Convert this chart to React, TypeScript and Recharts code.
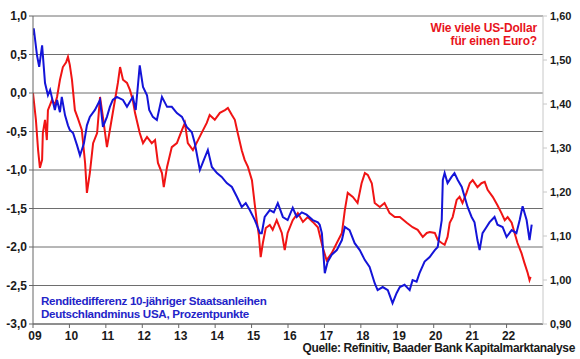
import React from 'react';
import { LineChart, Line, XAxis, YAxis, CartesianGrid } from 'recharts';

const yearTicks = [2009, 2010, 2011, 2012, 2013, 2014, 2015, 2016, 2017, 2018, 2019, 2020, 2021, 2022];
const spreadTicks = [1.0, 0.5, 0.0, -0.5, -1.0, -1.5, -2.0, -2.5, -3.0];
const fxTicks = [0.9, 1.0, 1.1, 1.2, 1.3, 1.4, 1.5, 1.6];

const spreadDates = [
  2009.0, 2009.02, 2009.11, 2009.17, 2009.25, 2009.33, 2009.41, 2009.47, 2009.52, 2009.6, 2009.66, 2009.74, 2009.79, 2009.88, 2009.96,
  2010.01, 2010.1, 2010.21, 2010.29, 2010.34, 2010.4, 2010.48, 2010.56, 2010.7, 2010.84, 2010.92,
  2011.03, 2011.11, 2011.19, 2011.3, 2011.47, 2011.58, 2011.74, 2011.82, 2011.93,
  2012.02, 2012.13, 2012.19, 2012.29, 2012.4, 2012.54, 2012.68, 2012.81, 2012.95,
  2013.09, 2013.22, 2013.36, 2013.44, 2013.58, 2013.69, 2013.8, 2013.91,
  2014.05, 2014.18, 2014.32, 2014.46, 2014.6, 2014.73, 2014.84, 2014.95,
  2015.09, 2015.23, 2015.28, 2015.36, 2015.5, 2015.61, 2015.72, 2015.86, 2015.99,
  2016.13, 2016.24, 2016.38, 2016.51, 2016.68, 2016.82, 2016.87, 2016.93,
  2017.01, 2017.09, 2017.2, 2017.34, 2017.48, 2017.56, 2017.69, 2017.83, 2017.97,
  2018.11, 2018.24, 2018.38, 2018.46, 2018.6, 2018.74, 2018.87, 2018.98,
  2019.07, 2019.2, 2019.34, 2019.42, 2019.53, 2019.61, 2019.75, 2019.89,
  2020.03, 2020.11, 2020.16, 2020.22, 2020.25, 2020.3, 2020.38, 2020.49, 2020.57, 2020.66, 2020.77, 2020.85, 2020.93,
  2021.04, 2021.12, 2021.2, 2021.26, 2021.34, 2021.45, 2021.53, 2021.67, 2021.75, 2021.89,
  2022.0, 2022.14, 2022.27, 2022.36, 2022.44, 2022.55, 2022.63, 2022.69,
];
const spreadValues = [
  0.75, 0.84, 0.49, 0.34, 0.62, 0.13, -0.03, 0.04, -0.06, -0.22, -0.09, -0.25, -0.05, -0.29, -0.42,
  -0.48, -0.52, -0.68, -0.81, -0.74, -0.65, -0.42, -0.31, -0.22, -0.09, -0.44,
  -0.31, -0.18, -0.09, -0.05, -0.09, -0.18, -0.05, -0.22, 0.36,
  0.08, -0.03, -0.22, -0.31, -0.35, -0.05, -0.18, -0.18, -0.26,
  -0.31, -0.44, -0.51, -0.65, -1.0, -0.87, -0.74, -0.96,
  -1.04, -1.09, -1.17, -1.22, -1.35, -1.48, -1.43, -1.52,
  -1.65, -1.82, -1.82, -1.61, -1.52, -1.55, -1.43, -1.61, -1.65,
  -1.49, -1.61, -1.55, -1.58, -1.65, -1.68, -1.71, -1.82,
  -2.34, -2.19, -2.1, -2.04, -1.91, -1.74, -1.78, -1.95, -2.04,
  -2.17, -2.26, -2.47, -2.56, -2.52, -2.56, -2.73, -2.6,
  -2.52, -2.49, -2.56, -2.43, -2.45, -2.34, -2.19, -2.13,
  -2.04, -2.0, -1.84, -1.65, -1.13, -1.04, -1.17, -1.09, -1.04, -1.13, -1.22, -1.35, -1.48,
  -1.61, -1.68, -1.91, -2.04, -1.82, -1.74, -1.68, -1.61, -1.71, -1.74,
  -1.87, -1.78, -1.82, -1.65, -1.47, -1.65, -1.91, -1.71,
];

const fxDates = [
  2009.0, 2009.08, 2009.14, 2009.19, 2009.25, 2009.27, 2009.33, 2009.38, 2009.41, 2009.52, 2009.6, 2009.66, 2009.74, 2009.82, 2009.91, 2009.96,
  2010.01, 2010.07, 2010.15, 2010.23, 2010.34, 2010.43, 2010.48, 2010.56, 2010.65, 2010.76, 2010.84, 2010.92,
  2011.03, 2011.11, 2011.25, 2011.33, 2011.39, 2011.47, 2011.58, 2011.66, 2011.74, 2011.8, 2011.93,
  2012.02, 2012.13, 2012.26, 2012.35, 2012.43, 2012.54, 2012.59, 2012.68, 2012.81, 2012.95,
  2013.09, 2013.17, 2013.25, 2013.39, 2013.53, 2013.64, 2013.77, 2013.85, 2013.99,
  2014.13, 2014.27, 2014.35, 2014.46, 2014.54, 2014.62, 2014.73, 2014.81, 2014.9,
  2015.01, 2015.09, 2015.14, 2015.2, 2015.25, 2015.31, 2015.39, 2015.5, 2015.58, 2015.69, 2015.83, 2015.91, 2015.99,
  2016.13, 2016.27, 2016.41, 2016.54, 2016.68, 2016.82, 2016.95,
  2017.06, 2017.2, 2017.34, 2017.48, 2017.56, 2017.64, 2017.78, 2017.91,
  2018.02, 2018.11, 2018.19, 2018.3, 2018.38, 2018.52, 2018.65, 2018.79, 2018.93,
  2019.07, 2019.26, 2019.42, 2019.56, 2019.7, 2019.81, 2019.89,
  2020.03, 2020.11, 2020.22, 2020.3, 2020.38, 2020.44, 2020.52, 2020.63, 2020.71, 2020.79, 2020.9, 2020.99,
  2021.07, 2021.2, 2021.31, 2021.4, 2021.48, 2021.62, 2021.75, 2021.86, 2021.95,
  2022.03, 2022.14, 2022.22, 2022.3, 2022.41, 2022.49, 2022.58, 2022.63, 2022.66,
];
const fxValues = [
  1.425, 1.364, 1.295, 1.255, 1.273, 1.334, 1.364, 1.318, 1.386, 1.409, 1.398, 1.416, 1.455, 1.484, 1.495, 1.507,
  1.489, 1.455, 1.386, 1.368, 1.341, 1.266, 1.198, 1.243, 1.311, 1.334, 1.416, 1.37,
  1.302, 1.341, 1.409, 1.448, 1.484, 1.455, 1.448, 1.432, 1.409, 1.38, 1.334,
  1.311, 1.325, 1.311, 1.318, 1.266, 1.243, 1.211, 1.257, 1.302, 1.311,
  1.341, 1.357, 1.311, 1.295, 1.318, 1.336, 1.357, 1.375, 1.364,
  1.38, 1.386, 1.391, 1.375, 1.364, 1.334, 1.295, 1.273, 1.257,
  1.227, 1.17, 1.136, 1.102, 1.052, 1.084, 1.118, 1.125, 1.114, 1.136, 1.107, 1.068, 1.107,
  1.136, 1.152, 1.132, 1.143, 1.132, 1.12, 1.075,
  1.045, 1.061, 1.084, 1.107, 1.159, 1.198, 1.189, 1.175,
  1.22, 1.243, 1.239, 1.22, 1.175, 1.166, 1.175, 1.152, 1.143,
  1.143, 1.13, 1.12, 1.114, 1.098, 1.107, 1.109,
  1.107, 1.091, 1.084, 1.08, 1.098, 1.13, 1.143, 1.182, 1.189, 1.175, 1.198, 1.22,
  1.227, 1.211, 1.22, 1.223, 1.205, 1.189, 1.17, 1.152, 1.136,
  1.143, 1.13, 1.107, 1.084, 1.061, 1.039, 1.016, 1.0, 1.007,
];

const spreadData = spreadDates.map((t, i) => ({ t, v: spreadValues[i] }));
const fxData = fxDates.map((t, i) => ({ t, v: fxValues[i] }));

const FONT = '"Liberation Sans", Arial, sans-serif';
const tickStyle = { fontFamily: FONT, fontSize: 12, fontWeight: 700, fill: '#1a1a1a' };

export default function App() {
  return (
    <div style={{ position: 'absolute', left: 0, top: 0, width: 580, height: 359, background: '#fff' }}>
      <LineChart width={580} height={359} margin={{ top: 16, right: 0, left: 0, bottom: 0 }}>
        <CartesianGrid yAxisId="left" vertical={false} horizontal stroke="#6e6e6e" strokeWidth={1} />
        <XAxis
          dataKey="t"
          type="number"
          domain={[2009, 2023]}
          ticks={yearTicks}
          allowDataOverflow
          height={35}
          tickSize={4}
          tickMargin={3}
          axisLine={{ stroke: '#666' }}
          tickLine={{ stroke: '#666' }}
          tick={{ ...tickStyle, dx: 2 }}
          tickFormatter={(v: number) => String(v % 100).padStart(2, '0')}
          interval={0}
        />
        <YAxis
          yAxisId="left"
          orientation="left"
          type="number"
          domain={[-3, 1]}
          ticks={spreadTicks}
          width={33}
          tickSize={4}
          tickMargin={2}
          axisLine={{ stroke: '#666' }}
          tickLine={{ stroke: '#666' }}
          tick={tickStyle}
          tickFormatter={(v: number) => v.toFixed(1).replace('.', ',')}
          interval={0}
        />
        <YAxis
          yAxisId="right"
          orientation="right"
          type="number"
          domain={[0.9, 1.6]}
          ticks={fxTicks}
          width={37}
          tickSize={4}
          tickMargin={3}
          axisLine={{ stroke: '#c8c8c8' }}
          tickLine={{ stroke: '#c8c8c8' }}
          tick={{ ...tickStyle, fontSize: 11 }}
          tickFormatter={(v: number) => v.toFixed(2).replace('.', ',')}
          interval={0}
        />
        <Line
          yAxisId="right"
          data={fxData}
          dataKey="v"
          type="linear"
          stroke="#f01414"
          strokeWidth={2}
          dot={false}
          isAnimationActive={false}
        />
        <Line
          yAxisId="left"
          data={spreadData}
          dataKey="v"
          type="linear"
          stroke="#1414d8"
          strokeWidth={2}
          dot={false}
          isAnimationActive={false}
        />
      </LineChart>
      <svg width={580} height={359} style={{ position: 'absolute', left: 0, top: 0, pointerEvents: 'none' }}>
        <g fontFamily={FONT} fontWeight={700} fontSize={12}>
          <text x={537} y={32} textAnchor="end" fill="#e8141c" letterSpacing={-0.15}>Wie viele US-Dollar</text>
          <text x={537} y={45} textAnchor="end" fill="#e8141c" letterSpacing={-0.15}>für einen Euro?</text>
          <text x={41} y={305} fontSize={11.6} fill="#2424c8" letterSpacing={-0.3}>Renditedifferenz 10-jähriger Staatsanleihen</text>
          <text x={41} y={318} fontSize={11.6} fill="#2424c8" letterSpacing={-0.3}>Deutschlandminus USA, Prozentpunkte</text>
          <text x={575} y={352} textAnchor="end" fill="#1a1a1a" letterSpacing={-0.36}>Quelle: Refinitiv, Baader Bank Kapitalmarktanalyse</text>
        </g>
      </svg>
    </div>
  );
}
